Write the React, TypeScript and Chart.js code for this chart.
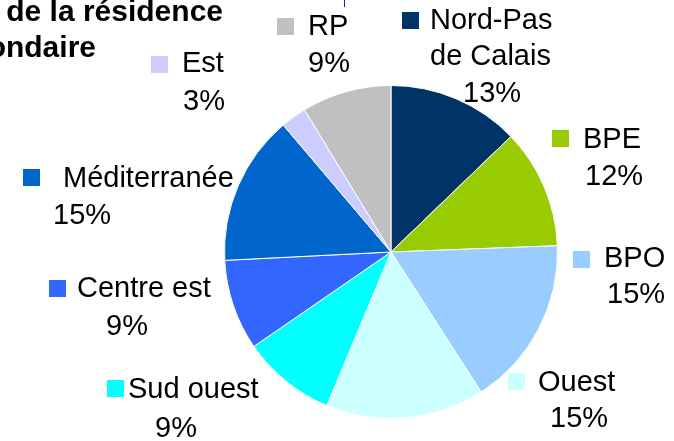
import React, { useEffect, useRef } from 'react';
import { Chart, registerables } from 'chart.js';

Chart.register(...registerables);

// ---- Data ----
const CATEGORIES = ['Nord-Pas\nde Calais', 'BPE', 'BPO', 'Ouest', 'Sud ouest', 'Centre est', 'Méditerranée', 'Est', 'RP'];
// slice sizes (%)
const SHARES = [12.8, 11.6, 16.5, 15.4, 9.1, 8.8, 14.6, 2.5, 8.7];
// percentages printed in the labels
const PCT_LABELS = ['13%', '12%', '15%', '15%', '9%', '9%', '15%', '3%', '9%'];
const COLORS = ['#003366', '#99CC00', '#99CCFF', '#CCFFFF', '#00FFFF', '#3366FF', '#0066CC', '#CCCCFF', '#C0C0C0'];
const TITLE_LINES = ['Localisation de la résidence', 'secondaire'];

// ---- Layout of the data labels (square marker + text lines), in canvas px ----
const LABEL_LAYOUT = [
  { sq: [402, 12], lines: [[430, 29], [430, 65], [463, 102]] },
  { sq: [552, 130], lines: [[583, 148], [585, 185]] },
  { sq: [573, 251], lines: [[604, 267], [607, 303]] },
  { sq: [508, 373], lines: [[538, 391], [550, 427]] },
  { sq: [107, 380], lines: [[128, 398], [155, 437]] },
  { sq: [49, 280], lines: [[77, 297], [106, 335]] },
  { sq: [23, 169], lines: [[63, 187], [53, 224]] },
  { sq: [151, 56], lines: [[182, 72], [183, 110]] },
  { sq: [277, 18], lines: [[308, 35], [308, 72]] },
];

const FONT = '"Liberation Sans", Arial, sans-serif';

const labelPlugin = {
  id: 'pptLabels',
  afterDraw(chart: any) {
    const ctx = chart.ctx as CanvasRenderingContext2D;
    ctx.save();
    // title (partly cut off at the left edge)
    ctx.fillStyle = '#000';
    ctx.font = `bold 30px ${FONT}`;
    ctx.textAlign = 'right';
    ctx.textBaseline = 'alphabetic';
    ctx.fillText(TITLE_LINES[0], 223, 21);
    ctx.fillText(TITLE_LINES[1], 96, 57);

    // small artifact line at top
    ctx.strokeStyle = '#1a1a9a';
    ctx.lineWidth = 1;
    ctx.beginPath();
    ctx.moveTo(344.5, 0);
    ctx.lineTo(344.5, 7);
    ctx.stroke();

    ctx.font = `29px ${FONT}`;
    ctx.textAlign = 'left';
    CATEGORIES.forEach((cat, i) => {
      const lay = LABEL_LAYOUT[i];
      ctx.fillStyle = COLORS[i];
      ctx.fillRect(lay.sq[0], lay.sq[1], 17, 17);
      const texts = [...cat.split('\n'), PCT_LABELS[i]];
      ctx.fillStyle = '#000';
      texts.forEach((t, j) => {
        const p = lay.lines[j];
        ctx.fillText(t, p[0], p[1]);
      });
    });
    ctx.restore();
  },
};

export default function App() {
  const ref = useRef<HTMLCanvasElement | null>(null);
  useEffect(() => {
    if (!ref.current) return;
    const chart = new Chart(ref.current, {
      type: 'pie',
      data: {
        labels: CATEGORIES,
        datasets: [
          {
            data: SHARES,
            backgroundColor: COLORS,
            borderColor: '#ffffff',
            borderWidth: 1,
          },
        ],
      },
      options: {
        responsive: false,
        animation: false,
        devicePixelRatio: 1,
        layout: { padding: { left: 224, right: 116, top: 85, bottom: 22 } },
        plugins: {
          legend: { display: false },
          tooltip: { enabled: false },
          title: { display: false },
        },
      },
      plugins: [labelPlugin],
    });
    return () => chart.destroy();
  }, []);
  return (
    <div style={{ position: 'absolute', left: 0, top: 0, width: 674, height: 441, background: '#fff' }}>
      <canvas ref={ref} width={674} height={441} style={{ width: 674, height: 441, display: 'block' }} />
    </div>
  );
}
